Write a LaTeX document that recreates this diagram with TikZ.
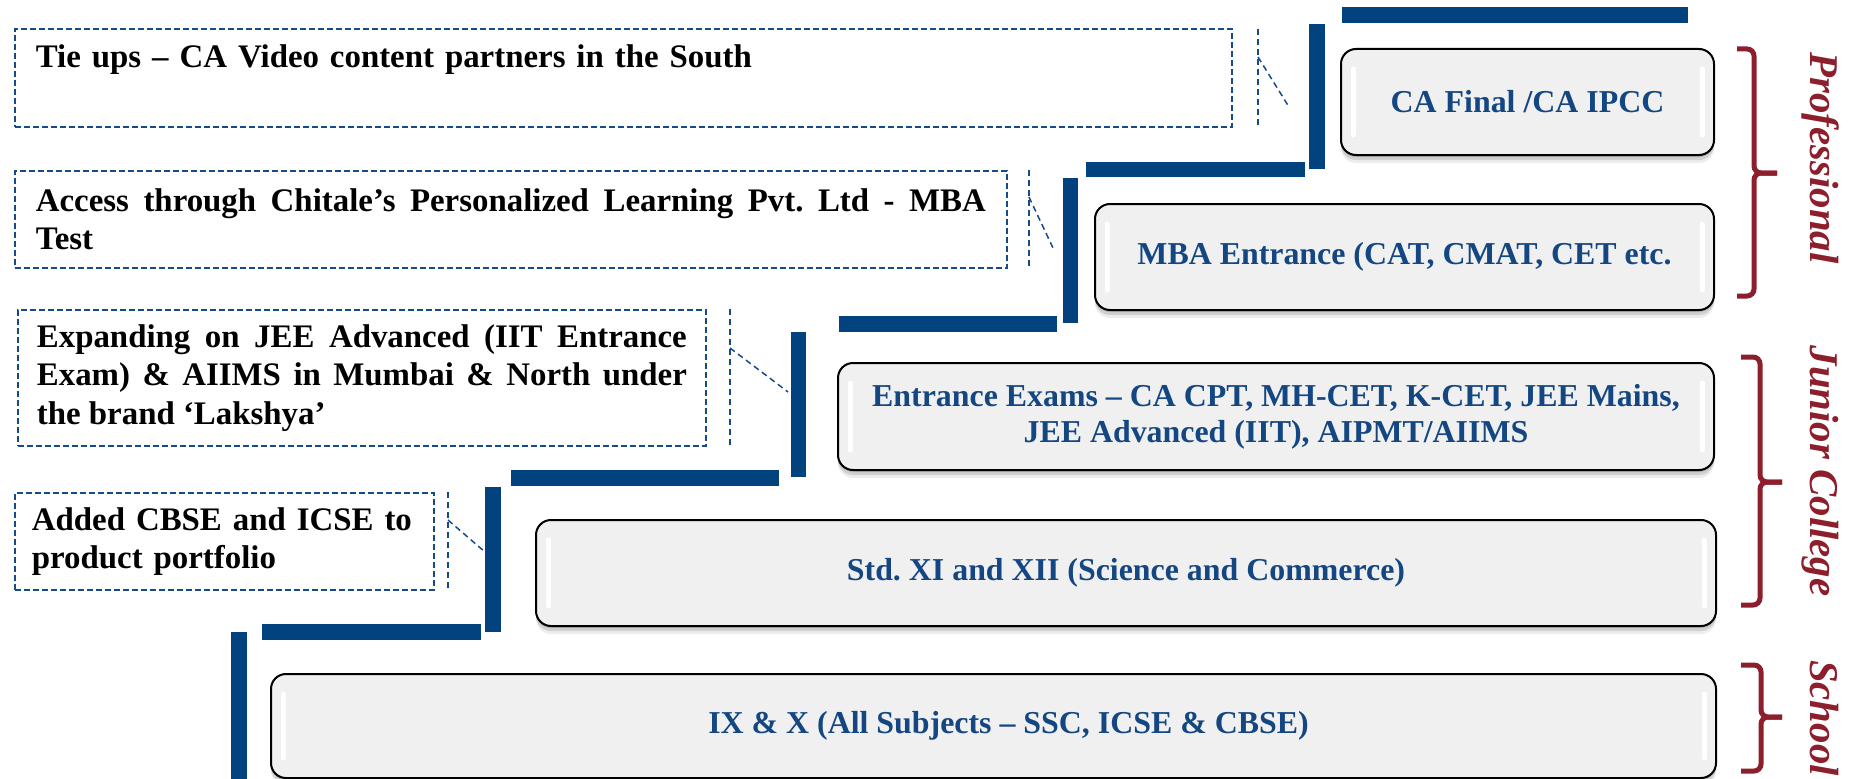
\documentclass[tikz,border=0pt]{standalone}
\usepackage{fontspec}
\setmainfont{Liberation Serif}
\usetikzlibrary{shadows}
\frenchspacing
\definecolor{barblue}{RGB}{2,67,127}
\definecolor{txtblue}{RGB}{20,70,130}
\definecolor{dashblue}{RGB}{22,74,138}
\definecolor{bracered}{RGB}{140,31,43}
\definecolor{boxfill}{RGB}{240,240,240}
\begin{document}
\begin{tikzpicture}[x=1bp, y=-1bp,
  bar/.style={fill=barblue},
  note/.style={draw=dashblue, line width=1.8bp, dash pattern=on 6bp off 3bp,
    anchor=north west, inner xsep=21bp, inner ysep=0bp, text=black,
    font=\fontsize{33}{38.5}\selectfont\bfseries},
  callout/.style={draw=dashblue, line width=1.5bp, dash pattern=on 6bp off 4bp},
  level/.style={draw=black, line width=2bp, fill=boxfill, rounded corners=15bp,
    anchor=north west, inner sep=0bp, text=txtblue, align=center,
    font=\fontsize{32}{36}\selectfont\bfseries,
    drop shadow={shadow xshift=0bp, shadow yshift=-2bp, opacity=0.15, fill=black},
    drop shadow={shadow xshift=0bp, shadow yshift=-5bp, opacity=0.12, fill=black},
    drop shadow={shadow xshift=0bp, shadow yshift=-8bp, opacity=0.07, fill=black},
    path picture={
      \draw[white, line width=5bp, line cap=round]
        ([xshift=12bp,yshift=-20bp]path picture bounding box.north west) --
        ([xshift=12bp,yshift=20bp]path picture bounding box.south west);
      \draw[white, line width=5bp, line cap=round]
        ([xshift=-12bp,yshift=-20bp]path picture bounding box.north east) --
        ([xshift=-12bp,yshift=20bp]path picture bounding box.south east);
    }},
  bracket/.style={draw=bracered, line width=5bp, rounded corners=7bp},
  stage/.style={text=bracered, font=\fontsize{41}{44}\selectfont\bfseries\itshape,
    rotate=-90, anchor=base, inner sep=0bp},
]
\useasboundingbox (0,0) rectangle (1854,779);

% staircase bars
\fill[bar] (1342,7) rectangle (1688,23);
\fill[bar] (1309,24) rectangle (1325,169);
\fill[bar] (1086,162) rectangle (1305,177);
\fill[bar] (1063,178) rectangle (1078,323);
\fill[bar] (839,316) rectangle (1057,332);
\fill[bar] (791,332) rectangle (806,477);
\fill[bar] (511,470) rectangle (779,486);
\fill[bar] (485,487) rectangle (501,632);
\fill[bar] (262,624) rectangle (481,640);
\fill[bar] (231,632) rectangle (247,779);

% level boxes
\node[level, minimum width=373bp, minimum height=106bp] (caf) at (1340,48) {CA Final /CA IPCC};
\node[level, minimum width=619bp, minimum height=106bp] (mba) at (1094,203) {MBA Entrance (CAT, CMAT, CET etc.};
\node[level, minimum width=876bp, minimum height=107bp] (ent) at (837,362) {Entrance Exams – CA CPT, MH-CET, K-CET, JEE Mains,\\JEE Advanced (IIT), AIPMT/AIIMS};
\node[level, minimum width=1180bp, minimum height=106bp] (std) at (535,519) {\raisebox{5bp}{Std. XI and XII (Science and Commerce)}};
\node[level, minimum width=1445bp, minimum height=104bp] (ix) at (270,673) {\hspace*{30bp}\raisebox{3bp}{IX \& X (All Subjects – SSC, ICSE \& CBSE)}};

% notes
\node[note, text width=1175bp, inner ysep=10bp, text height=29bp, text depth=49bp, align=left] (n1) at (14,28)
  {Tie ups – CA Video content partners in the South};
\node[note, text width=950bp, minimum height=97bp, align=justify] (n2) at (14,170)
  {Access through Chitale’s Personalized Learning Pvt. Ltd - MBA\linebreak Test};
\node[note, text width=650bp, inner xsep=19bp, minimum height=136bp, align=justify] (n3) at (17,309)
  {Expanding on JEE Advanced (IIT Entrance\linebreak Exam) \& AIIMS in Mumbai \& North under\linebreak the brand ‘Lakshya’};
\node[note, text width=385bp, inner xsep=17bp, minimum height=97bp, align=left] (n4) at (14,492)
  {\mbox{Added CBSE and ICSE to}\\product portfolio};

% callouts
\coordinate (k1a) at (1258,29); \coordinate (k1b) at (1258,126);
\coordinate (k1c) at (1258,57); \coordinate (k1d) at (1289,107);
\coordinate (k2a) at (1029,170); \coordinate (k2b) at (1029,267);
\coordinate (k2c) at (1029,197); \coordinate (k2d) at (1053,248);
\coordinate (k3a) at (730,309); \coordinate (k3b) at (730,445);
\coordinate (k3c) at (730,348); \coordinate (k3d) at (788,392);
\coordinate (k4a) at (448,492); \coordinate (k4b) at (448,589);
\coordinate (k4c) at (448,520); \coordinate (k4d) at (485,552);
\draw[callout] (k1a) -- (k1b); \draw[callout] (k1c) -- (k1d);
\draw[callout] (k2a) -- (k2b); \draw[callout] (k2c) -- (k2d);
\draw[callout] (k3a) -- (k3b); \draw[callout] (k3c) -- (k3d);
\draw[callout] (k4a) -- (k4b); \draw[callout] (k4c) -- (k4d);

% braces
\draw[bracket] (1737,49) -- (1754,49) -- (1754,173) -- (1777,173);
\draw[bracket] (1777,173) -- (1754,173) -- (1754,296) -- (1737,296);
\draw[bracket] (1741,357) -- (1760,357) -- (1760,482) -- (1782,482);
\draw[bracket] (1782,482) -- (1760,482) -- (1760,605) -- (1741,605);
\draw[bracket] (1741,665) -- (1761,665) -- (1761,717) -- (1782,717);
\draw[bracket] (1782,717) -- (1761,717) -- (1761,771) -- (1741,771);

% stage labels
\node[stage] (prof) at (1810,158) {Professional};
\node[stage] (jc) at (1810,471) {Junior College};
\node[stage] (sch) at (1810,718) {School};
\end{tikzpicture}
\end{document}
